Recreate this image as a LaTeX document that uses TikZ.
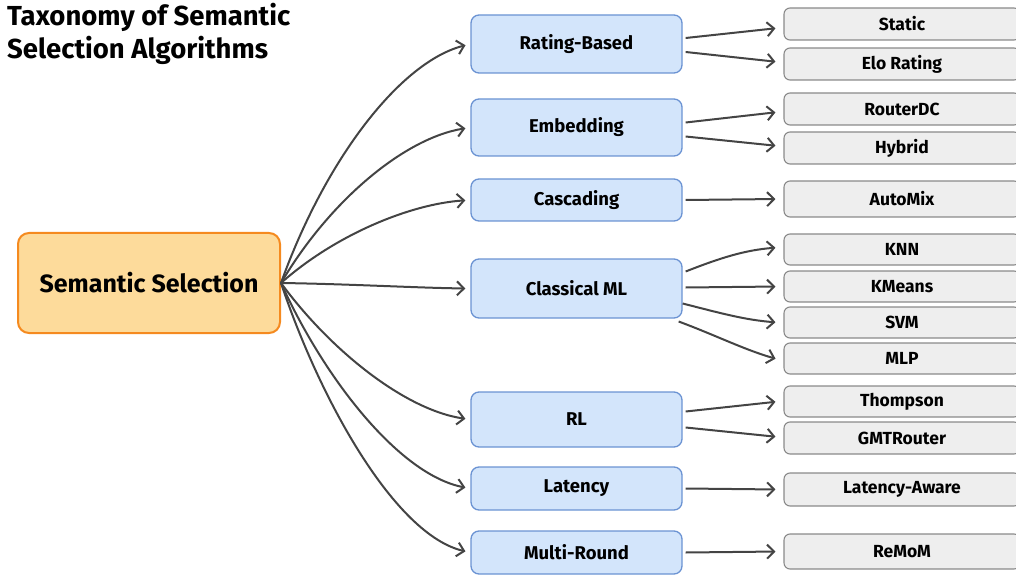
\documentclass[tikz,border=0pt]{standalone}
\usepackage{fontspec}
\setmainfont{Fira Sans}
\usetikzlibrary{arrows.meta}
\definecolor{rootfill}{HTML}{FDDB9B}
\definecolor{rootdraw}{HTML}{F58A1F}
\definecolor{midfill}{HTML}{D3E5FB}
\definecolor{middraw}{HTML}{6B93D3}
\definecolor{leaffill}{HTML}{EEEEEE}
\definecolor{leafdraw}{HTML}{8A8A8A}
\definecolor{arrc}{HTML}{444444}
\tikzset{
  rootbox/.style={draw=rootdraw, fill=rootfill, line width=2pt, rounded corners=11pt, minimum width=262pt, minimum height=100pt, inner sep=0pt, font=\fontsize{25}{28}\selectfont\bfseries},
  midbox/.style={draw=middraw, fill=midfill, line width=1.3pt, rounded corners=8pt, minimum width=211pt, inner sep=0pt, font=\fontsize{18.5}{21}\selectfont\bfseries},
  leafbox/.style={draw=leafdraw, fill=leaffill, line width=1.1pt, rounded corners=6pt, minimum width=236pt, inner sep=0pt, font=\fontsize{17.5}{20}\selectfont\bfseries},
  arr/.style={draw=arrc, line width=2pt, -{Straight Barb[length=7pt,width=14pt,line width=2pt]}, shorten >=3pt},
}
\begin{document}
\begin{tikzpicture}[x=1pt,y=-1pt]
\useasboundingbox (0,0) rectangle (1016,577);
\node[anchor=north west, align=left, inner sep=0pt, font=\fontsize{27.5}{33}\selectfont\bfseries] (title) at (7,3) {Taxonomy of Semantic\\Selection Algorithms};

\node[rootbox] (root) at (149,283) {Semantic Selection};

\node[midbox, minimum height=58pt] (rb) at (576.5,44) {Rating-Based};
\node[midbox, minimum height=57pt] (em) at (576.5,127.5) {Embedding};
\node[midbox, minimum height=42pt] (ca) at (576.5,200) {Cascading};
\node[midbox, minimum height=59pt] (cl) at (576.5,288.5) {Classical ML};
\node[midbox, minimum height=55pt] (rl) at (576.5,419.5) {RL};
\node[midbox, minimum height=43pt] (la) at (576.5,488.5) {Latency};
\node[midbox, minimum height=43pt] (mr) at (576.5,552.5) {Multi-Round};

\node[leafbox, minimum height=32pt] (st) at (902,24) {Static};
\node[leafbox, minimum height=32pt] (elo) at (902,64) {Elo Rating};
\node[leafbox, minimum height=32pt] (rdc) at (902,109) {RouterDC};
\node[leafbox, minimum height=32pt] (hy) at (902,148) {Hybrid};
\node[leafbox, minimum height=36pt] (am) at (902,199) {AutoMix};
\node[leafbox, minimum height=31pt] (knn) at (902,249.5) {KNN};
\node[leafbox, minimum height=31pt] (km) at (902,286.5) {KMeans};
\node[leafbox, minimum height=31pt] (svm) at (902,322.5) {SVM};
\node[leafbox, minimum height=31pt] (mlp) at (902,358.5) {MLP};
\node[leafbox, minimum height=31pt] (th) at (902,401.5) {Thompson};
\node[leafbox, minimum height=32pt] (gmt) at (902,438) {GMTRouter};
\node[leafbox, minimum height=33pt] (laa) at (902,489.5) {Latency-Aware};
\node[leafbox, minimum height=35pt] (rem) at (902,551.5) {ReMoM};

% root to middle
\draw[arr, shorten >=5pt] (root.east) .. controls (325,160) and (400,62) .. (rb.west);
\draw[arr, shorten >=5pt] (root.east) .. controls (330,200) and (405,138) .. (em.west);
\draw[arr, shorten >=5pt] (root.east) .. controls (335,235) and (410,204) .. (ca.west);
\draw[arr, shorten >=5pt] (root.east) .. controls (350,284) and (420,288) .. (cl.west);
\draw[arr, shorten >=5pt] (root.east) .. controls (330,350) and (405,410) .. (rl.west);
\draw[arr, shorten >=5pt] (root.east) .. controls (325,380) and (400,475) .. (la.west);
\draw[arr, shorten >=5pt] (root.east) .. controls (320,400) and (395,535) .. (mr.west);

% middle to leaves
\draw[arr] ([xshift=3pt,yshift=6pt]rb.east) -- ([xshift=-5pt,yshift=-4pt]st.west);
\draw[arr] ([xshift=3pt,yshift=-8pt]rb.east) -- ([xshift=-5pt,yshift=2pt]elo.west);
\draw[arr] ([xshift=3pt,yshift=5pt]em.east) -- ([xshift=-5pt,yshift=-3pt]rdc.west);
\draw[arr] ([xshift=3pt,yshift=-9pt]em.east) -- ([xshift=-5pt,yshift=2pt]hy.west);
\draw[arr] ([xshift=3pt]ca.east) -- ([xshift=-5pt]am.west);
\draw[arr] ([xshift=3pt,yshift=17pt]cl.east) .. controls (720,258) and (745,250) .. ([xshift=-5pt,yshift=2pt]knn.west);
\draw[arr] ([xshift=3pt,yshift=1pt]cl.east) -- ([xshift=-5pt]km.west);
\draw[arr] ([xshift=0pt,yshift=-15pt]cl.east) .. controls (720,313) and (745,320) .. ([xshift=-5pt]svm.west);
\draw[arr] ([xshift=-4pt,yshift=-33pt]cl.east) .. controls (715,335) and (745,350) .. ([xshift=-5pt,yshift=-1pt]mlp.west);
\draw[arr] ([xshift=3pt,yshift=8pt]rl.east) -- ([xshift=-5pt]th.west);
\draw[arr] ([xshift=3pt,yshift=-8pt]rl.east) -- ([xshift=-5pt,yshift=1pt]gmt.west);
\draw[arr] ([xshift=3pt]la.east) -- ([xshift=-5pt]laa.west);
\draw[arr] ([xshift=3pt]mr.east) -- ([xshift=-5pt]rem.west);
\end{tikzpicture}
\end{document}
